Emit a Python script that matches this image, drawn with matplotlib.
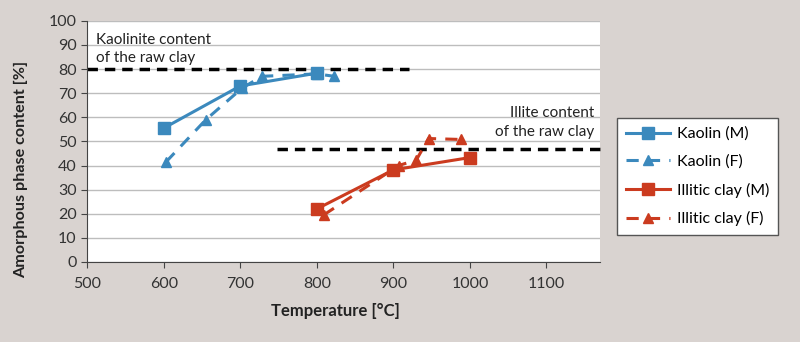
import matplotlib.pyplot as plt
import numpy as np

plt.rcParams['font.family'] = ['Lato', 'DejaVu Sans']

# data
kaolin_m_x = [600, 700, 800]
kaolin_m_y = [55.5, 73, 78.3]
kaolin_f_x = [603, 655, 702, 728, 800, 823]
kaolin_f_y = [41.5, 59, 72, 77, 78, 77]
illite_m_x = [800, 900, 1000]
illite_m_y = [22, 38.2, 43.3]
illite_f_x = [809, 907, 930, 946, 989]
illite_f_y = [19.5, 40, 42.3, 51.2, 50.8]

kaolinite_ref = 80
kaolinite_ref_span = [500, 920]
illite_ref = 47
illite_ref_span = [748, 1170]

blue = '#3b89bd'
red = '#cb3b1f'
bg = '#d9d3d0'

fig = plt.figure(figsize=(8, 3.42), dpi=100, facecolor=bg)
ax = fig.add_axes([0.109, 0.234, 0.641, 0.705])
ax.set_facecolor('white')

ax.set_xlim(500, 1170)
ax.set_ylim(0, 100)
ax.set_xticks(np.arange(500, 1101, 100))
ax.set_yticks(np.arange(0, 101, 10))
ax.yaxis.grid(True, color='#bdbdbd', lw=1)
ax.set_axisbelow(True)
for s in ['top', 'right']:
    ax.spines[s].set_visible(False)
for s in ['left', 'bottom']:
    ax.spines[s].set_color('#444444')
ax.tick_params(colors='#444444', labelcolor='#333333', labelsize=11.5, length=4)
ax.tick_params(axis='x', pad=7)

# reference lines
ax.plot(kaolinite_ref_span, [kaolinite_ref] * 2, color='black', lw=2.5,
        ls=(0, (3, 2)), zorder=2)
ax.plot(illite_ref_span, [illite_ref] * 2, color='black', lw=2.5,
        ls=(0, (3, 2)), zorder=2, clip_on=False)

ax.plot(kaolin_m_x, kaolin_m_y, color=blue, lw=2.2, marker='s', ms=8,
        label='Kaolin (M)', zorder=4)
ax.plot(kaolin_f_x, kaolin_f_y, color=blue, lw=2.2, ls=(0, (4, 3)), marker='^',
        ms=7, label='Kaolin (F)', zorder=3)
ax.plot(illite_m_x, illite_m_y, color=red, lw=2.2, marker='s', ms=8,
        label='Illitic clay (M)', zorder=4)
ax.plot(illite_f_x, illite_f_y, color=red, lw=2.2, ls=(0, (4, 3)), marker='^',
        ms=7, label='Illitic clay (F)', zorder=3)

ax.text(512, 81.5, 'Kaolinite content\nof the raw clay', fontsize=11,
        color='#222222', va='bottom', ha='left', linespacing=1.45)
ax.text(1162, 51, 'Illite content\nof the raw clay', fontsize=11,
        color='#222222', va='bottom', ha='right', linespacing=1.45)

ax.set_xlabel('Temperature [°C]', fontsize=12, fontweight='bold', color='#222222')
ax.xaxis.set_label_coords(0.485, -0.17)
ax.set_ylabel('Amorphous phase content [%]', fontsize=11.6, fontweight='bold',
              color='#222222')
ax.yaxis.set_label_coords(-0.115, 0.385)

leg = fig.legend(loc='upper left', bbox_to_anchor=(0.771, 0.655), fontsize=11.5,
                 frameon=True, fancybox=False, edgecolor='#555555',
                 framealpha=1, facecolor='white', borderaxespad=0,
                 borderpad=0.55, labelspacing=0.85, handlelength=2.8,
                 handletextpad=0.4, numpoints=1)
leg.get_frame().set_linewidth(1)

fig.savefig('out.png', dpi=100, facecolor=bg)
